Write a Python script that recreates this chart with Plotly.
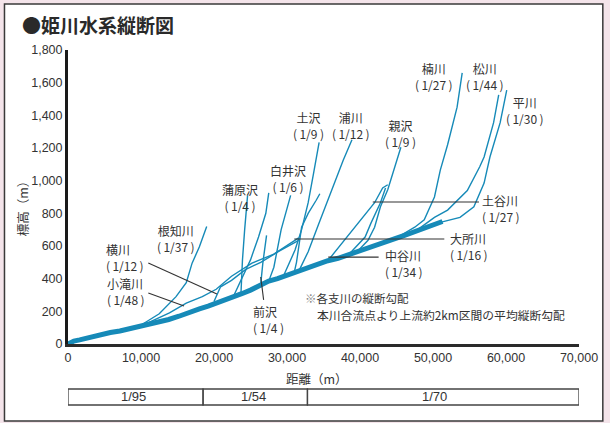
import plotly.graph_objects as go

# ---------------- data ----------------
# main river 姫川 : distance (m) / elevation (m)
main_x = [0, 800, 1600, 3000, 4400, 5800, 7100, 8800, 10500, 11500, 12500, 13800, 15200, 16600,
          18000, 19200, 20400, 21500, 22700, 23800, 25000, 26200, 27500, 28700, 29900, 31400,
          32900, 34200, 35600, 37000, 38400, 40000, 41500, 43000, 44500, 46100, 47600, 49100,
          50600, 51300]
main_y = [0, 18, 25, 42, 55, 70, 80, 98, 110, 120, 135, 150, 170, 195, 215, 232, 250, 270, 290,
          308, 330, 360, 385, 400, 420, 445, 465, 490, 510, 525, 545, 575, 595, 615, 640, 665,
          690, 715, 740, 750]

# tributaries
nechi_x = [9800, 12500, 14800, 16200, 17000, 18000, 19000]
nechi_y = [110, 185, 290, 375, 495, 595, 720]
kotaki_x = [10500, 13900, 16200, 18400, 20300, 22400, 25200, 28200, 31600]
kotaki_y = [120, 190, 250, 290, 335, 415, 495, 550, 650]
yoko_x = [20000, 20900, 22400, 24300, 26400, 28800, 31600]
yoko_y = [260, 350, 390, 455, 500, 565, 635]
gamahara_x = [23700, 23900, 24200, 24600]
gamahara_y = [315, 515, 700, 910]
gamahara2_x = [22700, 23700, 25000, 26100, 27100, 27500]
gamahara2_y = [295, 390, 515, 655, 800, 925]
shirai_x = [27500, 28200, 29200, 30500]
shirai_y = [385, 470, 700, 910]
maezawa_x = [26400, 26700, 27200]
maezawa_y = [365, 500, 665]
tsuchizawa_x = [29500, 31100, 32000, 32900, 33600, 34400]
tsuchizawa_y = [415, 575, 700, 865, 1035, 1235]
ura_x = [31600, 32900, 34300, 36600, 37700, 38900]
ura_y = [445, 565, 730, 1005, 1125, 1250]
branch_x = [31000, 31300, 32000, 32900, 34000, 34500]
branch_y = [440, 500, 715, 800, 880, 920]
oya_x = [39700, 41100, 42000, 42800, 43800, 44700, 45600]
oya_y = [570, 635, 715, 840, 945, 1075, 1205]
dokoro_x = [35600, 37900, 40100, 42000, 43100, 43800]
dokoro_y = [510, 635, 760, 865, 955, 975]
nakatani_x = [38400, 40700, 41500, 42800, 43500]
nakatani_y = [545, 655, 740, 865, 955]
kusu_x = [45200, 47500, 48800, 50200, 51000, 52000, 53300, 54000]
kusu_y = [655, 715, 760, 900, 1065, 1220, 1450, 1660]
matsu_x = [47900, 50200, 52000, 53300, 54700, 56400, 57000, 58300, 59000]
matsu_y = [700, 775, 820, 880, 940, 1085, 1145, 1355, 1525]
hira_x = [51000, 53700, 55600, 57000, 57800, 59200, 60100]
hira_y = [745, 775, 840, 985, 1145, 1355, 1555]

tributaries = [
    (nechi_x, nechi_y), (kotaki_x, kotaki_y), (yoko_x, yoko_y), (gamahara_x, gamahara_y),
    (gamahara2_x, gamahara2_y), (shirai_x, shirai_y), (maezawa_x, maezawa_y),
    (tsuchizawa_x, tsuchizawa_y), (ura_x, ura_y), (branch_x, branch_y), (oya_x, oya_y),
    (dokoro_x, dokoro_y), (nakatani_x, nakatani_y), (kusu_x, kusu_y), (matsu_x, matsu_y),
    (hira_x, hira_y),
]

# river name labels
label_names = ["根知川", "横川", "小滝川", "前沢", "蒲原沢", "白井沢", "土沢", "浦川", "親沢",
               "楠川", "松川", "平川", "土谷川", "大所川", "中谷川"]
label_grades = ["1/37", "1/12", "1/48", "1/4", "1/4", "1/6", "1/9", "1/12", "1/9",
                "1/27", "1/44", "1/30", "1/27", "1/16", "1/34"]

# gradient table under the axis
seg_bounds = [0, 18500, 32800, 70000]
seg_labels = ["1/95", "1/54", "1/70"]

x_ticks = [0, 10000, 20000, 30000, 40000, 50000, 60000, 70000]
y_ticks = [0, 200, 400, 600, 800, 1000, 1200, 1400, 1600, 1800]

# ---------------- figure ----------------
BLUE = "#168ab8"
INK = "#333333"
JP = "Noto Sans CJK JP"
TS = "\u2009"

fig = go.Figure()
for tx, ty in tributaries:
    fig.add_trace(go.Scatter(x=tx, y=ty, mode="lines",
                             line=dict(color=BLUE, width=1.4), hoverinfo="skip"))
fig.add_trace(go.Scatter(x=main_x, y=main_y, mode="lines",
                         line=dict(color=BLUE, width=5), hoverinfo="skip"))

# label positions (x, y in data units, anchor)
label_pos = [
    (14800, 643, "center"), (4900, 532, "left"), (5000, 324, "left"), (25000, 153, "left"),
    (23500, 894, "center"), (30200, 1016, "center"), (33000, 1340, "center"),
    (38700, 1340, "center"), (45600, 1291, "center"), (50200, 1640, "center"),
    (57100, 1640, "center"), (62600, 1432, "center"), (56500, 832, "left"),
    (52000, 600, "left"), (43100, 490, "left"),
]
annotations = []
for name, grade, (lx, ly, anc) in zip(label_names, label_grades, label_pos):
    annotations.append(dict(
        x=lx, y=ly, xref="x", yref="y", text=f"{name}<br>({TS}{grade}{TS})", showarrow=False,
        xanchor=anc, yanchor="middle", align="left" if anc == "left" else "center",
        font=dict(family=JP, size=12, color=INK)))

# leader lines
leaders = [
    (11000, 496, 20400, 306), (11000, 312, 15900, 233), (26800, 270, 26400, 410),
    (41750, 869, 56300, 869), (31000, 643, 51550, 643), (35650, 532, 42550, 532),
]
shapes = []
# outer frame
shapes.append(dict(type="rect", xref="paper", yref="paper", x0=-0.1243, x1=1.0466,
                   y0=-0.262, y1=1.1565, line=dict(color="#3a3a3a", width=1.5),
                   fillcolor="white", layer="below"))
for x0, y0, x1, y1 in leaders:
    shapes.append(dict(type="line", xref="x", yref="y", x0=x0, y0=y0, x1=x1, y1=y1,
                       line=dict(color=INK, width=1.1)))
# gradient table
for i, lab in enumerate(seg_labels):
    shapes.append(dict(type="rect", xref="x", yref="paper", x0=seg_bounds[i], x1=seg_bounds[i + 1],
                       y0=-0.2075, y1=-0.153, line=dict(color="#444", width=1.3)))
    annotations.append(dict(x=(seg_bounds[i] + seg_bounds[i + 1]) / 2 - (1200 if i == 2 else 300),
                            y=-0.180, xref="x", yref="paper", text=lab, showarrow=False,
                            font=dict(family="Liberation Sans, Arial", size=13, color=INK),
                            yanchor="middle"))

# title, axis titles, note
annotations += [
    dict(x=-0.093, y=1.087, xref="paper", yref="paper", text="●姫川水系縦断図", showarrow=False,
         xanchor="left", yanchor="middle",
         font=dict(family=JP, size=19, color="#2a2a2a", weight="bold")),
    dict(x=0.487, y=-0.116, xref="paper", yref="paper", text="距離（m）", showarrow=False,
         xanchor="center", yanchor="middle", font=dict(family=JP, size=12.5, color=INK)),
    dict(x=-0.089, y=0.47, xref="paper", yref="paper", text="標高（m）", showarrow=False,
         textangle=-90, xanchor="center", yanchor="middle",
         font=dict(family=JP, size=12.5, color=INK)),
    dict(x=0.460, y=0.158, xref="paper", yref="paper",
         text="<span style='color:#888'>※</span>各支川の縦断勾配", showarrow=False,
         xanchor="left", yanchor="middle", font=dict(family=JP, size=11.5, color=INK)),
    dict(x=0.483, y=0.100, xref="paper", yref="paper",
         text="本川合流点より上流約2km区間の平均縦断勾配", showarrow=False,
         xanchor="left", yanchor="middle", font=dict(family=JP, size=11.8, color=INK)),
]

fig.update_layout(
    width=610, height=423,
    margin=dict(l=68, r=27, t=50, b=79),
    paper_bgcolor="#f4e4ea", plot_bgcolor="rgba(0,0,0,0)",
    showlegend=False,
    shapes=shapes, annotations=annotations,
    xaxis=dict(range=[0, 70000], tickvals=x_ticks, tickformat=",d", showgrid=False,
               zeroline=False, showline=True, linecolor="#2a2a2a", linewidth=2.5,
               ticks="", tickfont=dict(family="Liberation Sans, Arial", size=12.5, color=INK)),
    yaxis=dict(range=[0, 1800], tickvals=y_ticks, tickformat=",d", showgrid=False,
               zeroline=False, showline=True, linecolor="#1a1a1a", linewidth=3,
               ticks="", tickfont=dict(family="Liberation Sans, Arial", size=12.5, color=INK)),
)

fig.write_html("out.html")
